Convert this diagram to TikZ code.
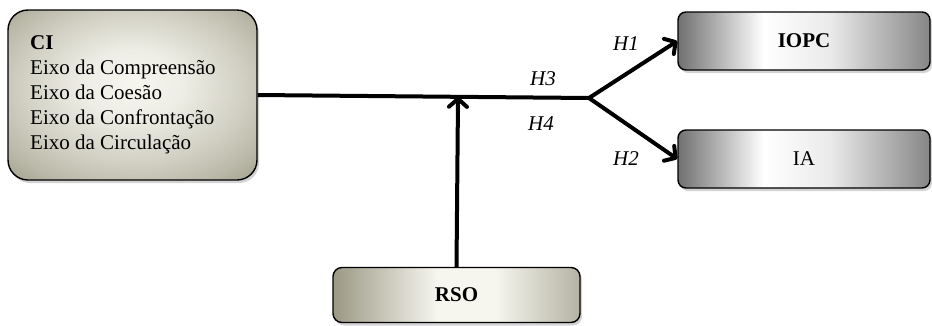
\documentclass[tikz,border=0pt]{standalone}
\usepackage{fontspec}
\setmainfont{Liberation Serif}
\usetikzlibrary{shadows,arrows.meta,calc}
\definecolor{beigeD}{RGB}{155,153,132}
\definecolor{beigeL}{RGB}{246,245,238}
\definecolor{grayD}{RGB}{112,112,112}
\pgfdeclarehorizontalshading{grayshade}{100bp}{color(0bp)=(grayD); color(25bp)=(grayD); color(42bp)=(white); color(55bp)=(white!92!black); color(75bp)=(grayD!85!white); color(100bp)=(grayD!85!white)}
\pgfdeclarehorizontalshading{rsoshade}{100bp}{color(0bp)=(beigeD); color(25bp)=(beigeD); color(46bp)=(beigeL); color(58bp)=(beigeL); color(75bp)=(beigeD!75!white); color(100bp)=(beigeD!75!white)}
\pgfdeclareradialshading{cishade}{\pgfpoint{0bp}{4bp}}{color(0bp)=(beigeL); color(10bp)=(beigeL!92!beigeD); color(22bp)=(beigeL!60!beigeD); color(30bp)=(beigeL!35!beigeD); color(38bp)=(beigeD); color(50bp)=(beigeD)}
\begin{document}
\begin{tikzpicture}[x=1pt,y=-1pt,
  font=\fontsize{21}{25}\selectfont,
  basebox/.style={draw=black, line width=1.4pt, inner sep=0pt,
    drop shadow={opacity=0.35, shadow xshift=2pt, shadow yshift=-3pt}},
  cibox/.style={basebox, rounded corners=20pt, shading=cishade},
  graybox/.style={basebox, rounded corners=8pt, shading=grayshade},
  rsobox/.style={basebox, rounded corners=9pt, shading=rsoshade},
  arr/.style={line width=4pt, -{Straight Barb[length=8pt,width=18pt,round]}},
  plain/.style={line width=4pt},
  hlab/.style={font=\fontsize{21}{25}\selectfont\itshape}]
\useasboundingbox (0,0) rectangle (932,325);

\node[cibox, minimum width=249pt, minimum height=170pt] (CI) at (132.5,95) {};
\node[anchor=north west, inner sep=0pt, align=left] (CItxt) at (30,35)
  {\textbf{CI}\\Eixo da Compreensão\\Eixo da Coesão\\Eixo da Confrontação\\Eixo da Circulação};

\node[graybox, minimum width=252pt, minimum height=58pt] (IOPC) at (804,41) {\textbf{IOPC}};
\node[graybox, minimum width=252pt, minimum height=58pt] (IA) at (804,159) {IA};
\node[rsobox, minimum width=247pt, minimum height=55pt] (RSO) at (456.5,295) {\textbf{RSO}};

\coordinate (J) at (589,98);
\draw[plain] (CI.east) -- (J);
\draw[arr] (J) -- (IOPC.west);
\draw[arr] (J) -- (IA.west);
\draw[arr] (RSO.north) -- ($(CI.east)!(RSO.north)!(J)$);

\node[hlab] (H1) at (626,44) {H1};
\node[hlab] (H2) at (626,159) {H2};
\node[hlab] (H3) at (543,79) {H3};
\node[hlab] (H4) at (541,124) {H4};
\end{tikzpicture}
\end{document}
